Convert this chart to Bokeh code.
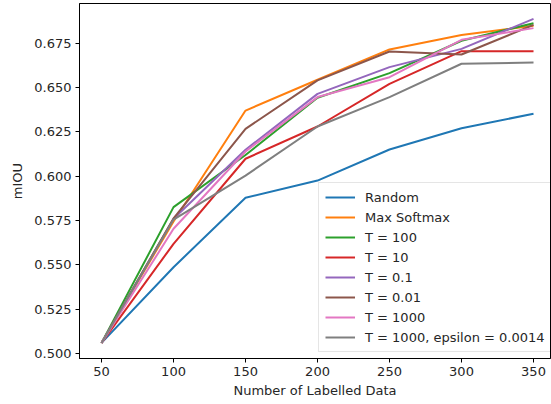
from bokeh.plotting import figure
from bokeh.models import Legend, LegendItem, FixedTicker, NumeralTickFormatter, Range1d
from bokeh.embed import file_html
from bokeh.resources import INLINE

x_vals = [50, 100, 150, 200, 250, 300, 350]
random_v = [0.506, 0.5487, 0.5879, 0.5976, 0.6151, 0.6271, 0.6353]
max_softmax = [0.506, 0.5745, 0.6371, 0.6545, 0.6716, 0.6797, 0.6849]
t_100 = [0.506, 0.5826, 0.6120, 0.6443, 0.6582, 0.6765, 0.6864]
t_10 = [0.506, 0.5619, 0.6099, 0.6281, 0.6522, 0.6706, 0.6706]
t_0_1 = [0.506, 0.5760, 0.6150, 0.6465, 0.6616, 0.6719, 0.6888]
t_0_01 = [0.506, 0.5762, 0.6268, 0.6541, 0.6704, 0.6687, 0.6854]
t_1000 = [0.506, 0.5704, 0.6140, 0.6447, 0.6559, 0.6770, 0.6836]
t_1000_eps = [0.506, 0.5756, 0.6004, 0.6281, 0.6447, 0.6635, 0.6642]

series_names = ["Random", "Max Softmax", "T = 100", "T = 10", "T = 0.1", "T = 0.01",
                "T = 1000", "T = 1000, epsilon = 0.0014"]
series_vals = [random_v, max_softmax, t_100, t_10, t_0_1, t_0_01, t_1000, t_1000_eps]
colors = ["#1f77b4", "#ff7f0e", "#2ca02c", "#d62728", "#9467bd", "#8c564b", "#e377c2", "#7f7f7f"]

y_ticks = [0.500, 0.525, 0.550, 0.575, 0.600, 0.625, 0.650, 0.675]

FONT = "DejaVu Sans"

p = figure(width=551, height=404, output_backend="svg", toolbar_location=None,
           x_range=Range1d(34.7, 361.8), y_range=Range1d(0.4972, 0.6975),
           min_border_left=79, min_border_right=1, min_border_top=3, min_border_bottom=46)

renderers = []
for name, vals, c in zip(series_names, series_vals, colors):
    r = p.line(x_vals, vals, line_color=c, line_width=2)
    renderers.append((name, r))

p.xgrid.visible = False
p.ygrid.visible = False
p.outline_line_color = "black"
p.outline_line_width = 1
p.outline_line_alpha = 1

for ax in (p.xaxis[0], p.yaxis[0]):
    ax.major_label_text_font = FONT
    ax.major_label_text_font_size = "13px"
    ax.major_label_text_color = "#262626"
    ax.axis_label_text_font = FONT
    ax.axis_label_text_font_size = "13px"
    ax.axis_label_text_font_style = "normal"
    ax.axis_label_text_color = "#262626"
    ax.minor_tick_line_color = None
    ax.major_tick_out = 4
    ax.major_tick_in = 0
    ax.major_tick_line_color = "black"
    ax.axis_line_color = "black"

p.xaxis[0].ticker = FixedTicker(ticks=x_vals)
p.yaxis[0].ticker = FixedTicker(ticks=y_ticks)
p.yaxis[0].formatter = NumeralTickFormatter(format="0.000")
p.xaxis[0].axis_label = "Number of Labelled Data"
p.yaxis[0].axis_label = "mIOU"
p.xaxis[0].major_label_standoff = 4
p.yaxis[0].major_label_standoff = 4
p.xaxis[0].axis_label_standoff = 4
p.yaxis[0].axis_label_standoff = 6

legend = Legend(items=[LegendItem(label=n, renderers=[r]) for n, r in renderers],
                location=(239, 6))
legend.label_text_font = FONT
legend.label_text_font_size = "13px"
legend.label_text_color = "#262626"
legend.glyph_width = 30
legend.glyph_height = 16
legend.label_height = 16
legend.spacing = 4
legend.label_standoff = 10
legend.padding = 6
legend.margin = 0
legend.border_line_color = "#cccccc"
legend.border_line_width = 1
legend.background_fill_alpha = 0.8
p.add_layout(legend, "center")

open("out.html", "w").write(file_html(p, INLINE))
